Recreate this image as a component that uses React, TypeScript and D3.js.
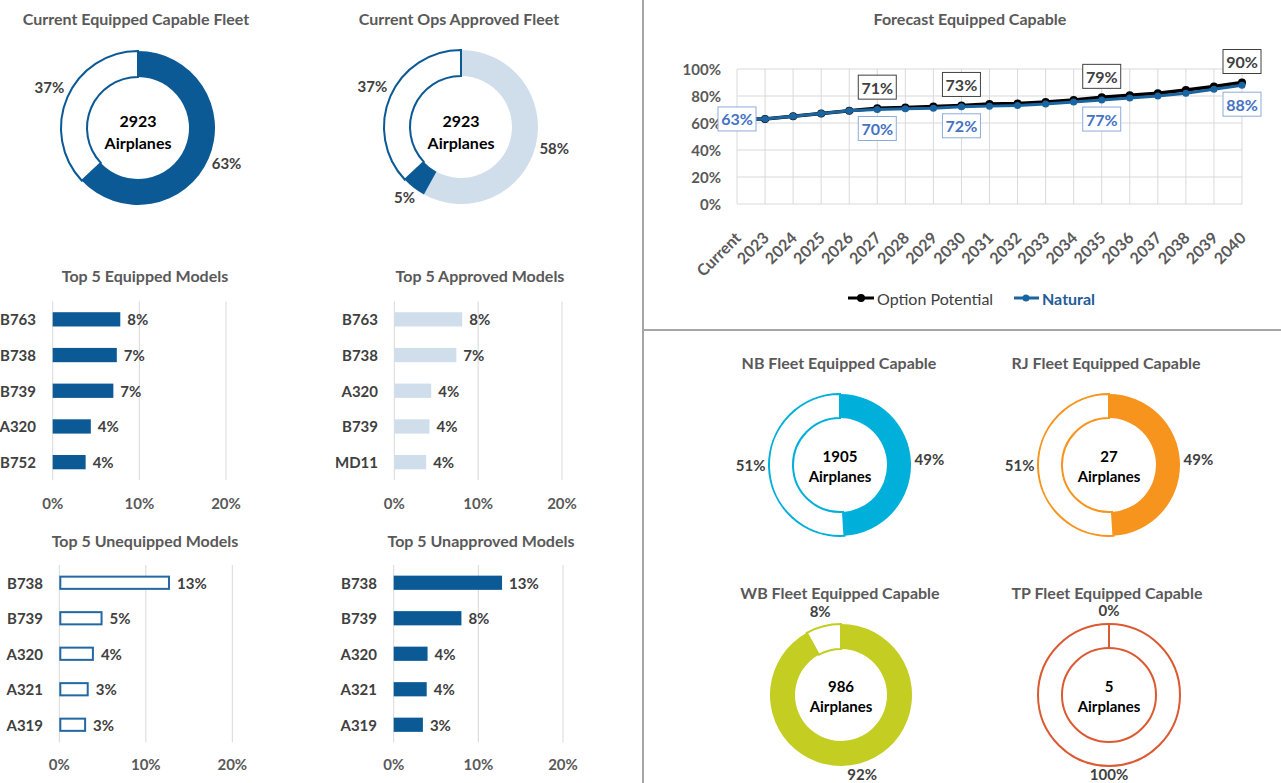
import React from "react";
import * as d3 from "d3";

const FONT = "Lato, 'Open Sans', 'DejaVu Sans', sans-serif";
const GRAY = "#404040";
const TITLE_GRAY = "#595959";
const GRID = "#D9D9D9";
const DARK_BLUE = "#0B5A96";
const LIGHT_BLUE = "#D0DEEB";

// ---- Top donuts ----
const fleetTotal = 2923;
const equippedFleetValues = [63, 37];
const equippedFleetFills = [DARK_BLUE, "#FFFFFF"];
const opsFleetValues = [58, 5, 37];
const opsFleetFills = [LIGHT_BLUE, DARK_BLUE, "#FFFFFF"];

// ---- Bar charts ----
const equippedModels = ["B763", "B738", "B739", "A320", "B752"];
const equippedValues = [7.8, 7.4, 7.0, 4.4, 3.8];
const approvedModels = ["B763", "B738", "A320", "B739", "MD11"];
const approvedValues = [8.1, 7.4, 4.4, 4.2, 3.8];
const unequippedModels = ["B738", "B739", "A320", "A321", "A319"];
const unequippedValues = [12.8, 5.0, 4.0, 3.4, 3.1];
const unapprovedModels = ["B738", "B739", "A320", "A321", "A319"];
const unapprovedValues = [12.8, 8.0, 4.0, 3.9, 3.45];
const barTicks = [0, 10, 20];

// ---- Forecast line chart ----
const years = ["Current", "2023", "2024", "2025", "2026", "2027", "2028", "2029", "2030", "2031", "2032", "2033", "2034", "2035", "2036", "2037", "2038", "2039", "2040"];
const naturalValues = [63, 63, 65, 67, 69, 70, 70.5, 71, 72, 72.5, 73, 74, 75.5, 77, 78.5, 80, 82, 85, 88];
const optionValues = [63, 63, 65, 67, 69, 71, 71.5, 72.3, 73, 74, 74.5, 75.5, 77, 79, 80.5, 82, 84.5, 87, 90];
const labeledYears = ["2027", "2030", "2035", "2040"];
const yTicks = [0, 20, 40, 60, 80, 100];

// ---- Segment donuts ----
const nbTotal = 1905;
const nbValues = [49, 51];
const rjTotal = 27;
const rjValues = [49, 51];
const wbTotal = 986;
const wbValues = [92, 8];
const tpTotal = 5;
const tpValues = [0, 100];

type DonutProps = {
  cx: number; cy: number; rOut: number; rIn: number;
  values: number[]; color: string; filled: boolean[];
  fillColors?: string[];
  title: string; titleX: number; titleY: number; total: number;
  textDy: [number, number]; centerSize: number;
};

function Donut(p: DonutProps) {
  const pie = d3.pie<number>().sort(null).value((d) => d)(p.values);
  const arc = d3.arc<d3.PieArcDatum<number>>().innerRadius(p.rIn).outerRadius(p.rOut);
  return (
    <g>
      <text x={p.titleX} y={p.titleY} textAnchor="middle" dominantBaseline="central"
        fontFamily={FONT} fontWeight={700} fontSize={16} fill={TITLE_GRAY}>{p.title}</text>
      <g transform={`translate(${p.cx},${p.cy})`}>
        {pie.map((s, i) => (
          <path key={"f" + i} d={arc(s) || ""}
            fill={p.filled[i] ? (p.fillColors ? p.fillColors[i] : p.color) : "#FFFFFF"} stroke="none" />
        ))}
        {pie.map((s, i) => (!p.filled[i] ? (
          <path key={"s" + i} d={arc(s) || ""} fill="none" stroke={p.color} strokeWidth={2} />
        ) : null))}
        {pie.map((s, i) => {
          const mid = (s.startAngle + s.endAngle) / 2;
          const txt = `${p.values[i]}%`;
          const hw = txt.length * 4.4;
          const sn = Math.sin(mid), cs = Math.cos(mid);
          const R = p.rOut + 5 + hw * Math.abs(sn) + 6 * Math.abs(cs);
          return (
            <text key={"l" + i} x={R * sn} y={-R * cs - 3} textAnchor="middle" dominantBaseline="central"
              fontFamily={FONT} fontWeight={700} fontSize={15} fill={GRAY}>{txt}</text>
          );
        })}
        <text x={0} y={p.textDy[0]} textAnchor="middle" dominantBaseline="central"
          fontFamily={FONT} fontWeight={700} fontSize={p.centerSize} fill="#000">{p.total}</text>
        <text x={0} y={p.textDy[1]} textAnchor="middle" dominantBaseline="central"
          fontFamily={FONT} fontWeight={700} fontSize={p.centerSize} fill="#000">Airplanes</text>
      </g>
    </g>
  );
}

type BarProps = {
  title: string; titleX: number; titleY: number;
  cats: string[]; vals: number[];
  x0: number; x20: number; yTop: number; yBot: number;
  labelX: number; tickY: number; fill: string; outline?: boolean;
};

function HBar(p: BarProps) {
  const x = d3.scaleLinear().domain([0, 20]).range([p.x0, p.x20]);
  const y = d3.scaleBand<string>().domain(p.cats).range([p.yTop, p.yBot]).paddingInner(0.6).paddingOuter(0.3);
  const bw = y.bandwidth();
  return (
    <g fontFamily={FONT}>
      <text x={p.titleX} y={p.titleY} textAnchor="middle" dominantBaseline="central"
        fontWeight={700} fontSize={16} fill={TITLE_GRAY}>{p.title}</text>
      {barTicks.map((t) => (
        <g key={t}>
          <line x1={x(t)} x2={x(t)} y1={p.yTop} y2={p.yBot} stroke={GRID} strokeWidth={1} />
          <text x={x(t)} y={p.tickY} textAnchor="middle" dominantBaseline="central"
            fontWeight={700} fontSize={15} fill={TITLE_GRAY}>{t}%</text>
        </g>
      ))}
      {p.cats.map((c, i) => {
        const yy = y(c) as number;
        const w = x(p.vals[i]) - x(0);
        return (
          <g key={c}>
            <text x={p.labelX} y={yy + bw / 2} textAnchor="end" dominantBaseline="central"
              fontWeight={700} fontSize={15} fill={GRAY}>{c}</text>
            {p.outline ? (
              <rect x={x(0) + 1} y={yy + 1} width={w - 2} height={bw - 2} fill="#FFFFFF" stroke="#2367A3" strokeWidth={2} />
            ) : (
              <rect x={x(0)} y={yy} width={w} height={bw} fill={p.fill} />
            )}
            <text x={x(p.vals[i]) + 7} y={yy + bw / 2} dominantBaseline="central"
              fontWeight={700} fontSize={15} fill={GRAY}>{Math.round(p.vals[i])}%</text>
          </g>
        );
      })}
    </g>
  );
}

function Forecast() {
  const x = d3.scaleLinear().domain([0, years.length - 1]).range([737, 1242]);
  const y = d3.scaleLinear().domain([0, 100]).range([204, 69]);
  const line = d3.line<number>().x((_, i) => x(i)).y((d) => y(d));
  const LINE_BLUE = "#1A64A0";
  const LABEL_BLUE = "#4472C4";
  return (
    <g fontFamily={FONT}>
      <text x={970} y={18} textAnchor="middle" dominantBaseline="central"
        fontWeight={700} fontSize={16} fill={TITLE_GRAY}>Forecast Equipped Capable</text>
      {yTicks.map((t) => (
        <g key={t}>
          <line x1={x(0)} x2={x(years.length - 1)} y1={y(t)} y2={y(t)} stroke={GRID} strokeWidth={1} />
          <text x={721} y={y(t)} textAnchor="end" dominantBaseline="central"
            fontWeight={700} fontSize={15} fill={TITLE_GRAY}>{t}%</text>
        </g>
      ))}
      {years.map((yr, i) => (
        <g key={yr}>
          <line x1={x(i)} x2={x(i)} y1={y(0)} y2={y(100)} stroke={GRID} strokeWidth={1} />
          <text transform={`translate(${x(i) + 5},${y(0) + 35}) rotate(-45)`} textAnchor="end"
            fontWeight={700} fontSize={16} fill={TITLE_GRAY}>{yr}</text>
        </g>
      ))}
      <path d={line(optionValues) || ""} fill="none" stroke="#000" strokeWidth={3.5} />
      {optionValues.map((v, i) => (
        <circle key={"o" + i} cx={x(i)} cy={y(v)} r={4} fill="#000" />
      ))}
      <path d={line(naturalValues) || ""} fill="none" stroke={LINE_BLUE} strokeWidth={3} />
      {naturalValues.map((v, i) => (
        <circle key={"n" + i} cx={x(i)} cy={y(v)} r={3.5} fill={LINE_BLUE} />
      ))}
      {/* Current label */}
      <g>
        <rect x={x(0) - 19} y={y(naturalValues[0]) - 12} width={38} height={24} fill="#fff" stroke="#8EAADB" strokeWidth={1} />
        <text x={x(0)} y={y(naturalValues[0])} textAnchor="middle" dominantBaseline="central"
          fontWeight={700} fontSize={16} fill={LABEL_BLUE}>{Math.round(naturalValues[0])}%</text>
      </g>
      {labeledYears.map((yr) => {
        const i = years.indexOf(yr);
        const oy = y(optionValues[i]) - 21;
        const ny = y(naturalValues[i]) + 19;
        return (
          <g key={"lab" + yr}>
            <rect x={x(i) - 19} y={oy - 12} width={38} height={24} fill="#fff" stroke="#404040" strokeWidth={1} />
            <text x={x(i)} y={oy} textAnchor="middle" dominantBaseline="central"
              fontWeight={700} fontSize={16} fill={GRAY}>{Math.round(optionValues[i])}%</text>
            <rect x={x(i) - 19} y={ny - 12} width={38} height={24} fill="#fff" stroke="#8EAADB" strokeWidth={1} />
            <text x={x(i)} y={ny} textAnchor="middle" dominantBaseline="central"
              fontWeight={700} fontSize={16} fill={LABEL_BLUE}>{Math.round(naturalValues[i])}%</text>
          </g>
        );
      })}
      {/* legend */}
      <line x1={848} x2={874} y1={298} y2={298} stroke="#000" strokeWidth={3} />
      <circle cx={861} cy={298} r={4} fill="#000" />
      <text x={877} y={298} dominantBaseline="central" fontSize={16} fontWeight={400} fill={GRAY}>Option Potential</text>
      <line x1={1014} x2={1039} y1={298} y2={298} stroke={LINE_BLUE} strokeWidth={3} />
      <circle cx={1026} cy={298} r={3.5} fill={LINE_BLUE} />
      <text x={1042} y={298} dominantBaseline="central" fontSize={16} fontWeight={700} fill="#1F5C99">Natural</text>
    </g>
  );
}

export default function App() {
  return (
    <svg width={1281} height={783} style={{ position: "absolute", left: 0, top: 0, background: "#fff" }}>
      <rect x={0} y={0} width={1281} height={783} fill="#fff" />
      <Donut cx={138} cy={128} rOut={77} rIn={51} values={equippedFleetValues} color={DARK_BLUE}
        filled={[true, false]} fillColors={equippedFleetFills} centerSize={16}
        title="Current Equipped Capable Fleet" titleX={136} titleY={18} total={fleetTotal} textDy={[-8, 14]} />
      <Donut cx={461} cy={127} rOut={77} rIn={51} values={opsFleetValues} color={DARK_BLUE}
        filled={[true, true, false]} fillColors={opsFleetFills} centerSize={16}
        title="Current Ops Approved Fleet" titleX={459} titleY={18} total={fleetTotal} textDy={[-7, 15]} />

      <HBar title="Top 5 Equipped Models" titleX={145} titleY={275} cats={equippedModels} vals={equippedValues}
        x0={52.7} x20={226} yTop={301.5} yBot={480} labelX={36} tickY={503} fill={DARK_BLUE} />
      <HBar title="Top 5 Approved Models" titleX={480} titleY={275} cats={approvedModels} vals={approvedValues}
        x0={394.3} x20={562} yTop={301.5} yBot={480} labelX={378} tickY={503} fill={LIGHT_BLUE} />
      <HBar title="Top 5 Unequipped Models" titleX={145} titleY={540} cats={unequippedModels} vals={unequippedValues}
        x0={59.3} x20={232.3} yTop={565} yBot={742.5} labelX={43} tickY={764} fill={DARK_BLUE} outline />
      <HBar title="Top 5 Unapproved Models" titleX={481} titleY={540} cats={unapprovedModels} vals={unapprovedValues}
        x0={393.7} x20={563} yTop={565} yBot={742.5} labelX={377} tickY={764} fill={DARK_BLUE} />

      <Forecast />

      <Donut cx={840} cy={465} rOut={71} rIn={47} values={nbValues} color="#00B0DA" filled={[true, false]} centerSize={15}
        title="NB Fleet Equipped Capable" titleX={839} titleY={362} total={nbTotal} textDy={[-9, 11]} />
      <Donut cx={1109} cy={465} rOut={71} rIn={47} values={rjValues} color="#F7941D" filled={[true, false]} centerSize={15}
        title="RJ Fleet Equipped Capable" titleX={1106} titleY={362} total={rjTotal} textDy={[-9, 11]} />
      <Donut cx={841} cy={695} rOut={71} rIn={46} values={wbValues} color="#C3CD22" filled={[true, false]} centerSize={15}
        title="WB Fleet Equipped Capable" titleX={840} titleY={592} total={wbTotal} textDy={[-9, 11]} />
      <Donut cx={1109} cy={695} rOut={71} rIn={47} values={tpValues} color="#DC5A32" filled={[false, false]} centerSize={15}
        title="TP Fleet Equipped Capable" titleX={1107} titleY={592} total={tpTotal} textDy={[-9, 11]} />

      <line x1={643} x2={643} y1={0} y2={783} stroke="#A6A6A6" strokeWidth={2} />
      <line x1={643} x2={1281} y1={330} y2={330} stroke="#A6A6A6" strokeWidth={2} />
    </svg>
  );
}
